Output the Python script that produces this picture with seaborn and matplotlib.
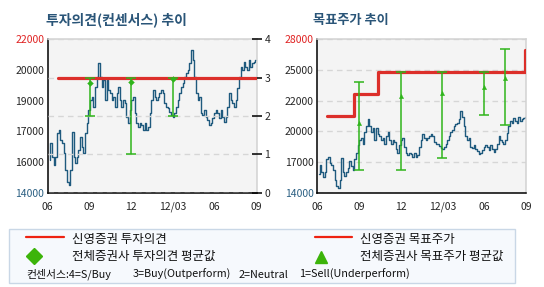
import numpy as np
import pandas as pd
import matplotlib.pyplot as plt
import seaborn as sns

# stock price (one value every few days)
price = [15700, 16570, 15880, 15440, 15880, 17100, 17270, 16750, 16570, 16050,
         15180, 14570, 14400, 15180, 17180, 15880, 15530, 15880, 16230, 16920,
         16400, 16050, 17100, 17620, 18310, 18830, 19010, 18490, 19530, 20050,
         20750, 20050, 19530, 19880, 18830, 19880, 19360, 19180, 18830, 19010,
         18490, 19180, 19530, 18830, 18490, 18830, 18660, 17970, 17620, 18310,
         18830, 19010, 18140, 17620, 17440, 17620, 17530, 17270, 17620, 17270,
         17440, 18140, 18830, 19360, 19010, 18830, 19010, 19180, 19360, 19180,
         18660, 18490, 18400, 18230, 18050, 17970, 18140, 18490, 18830, 19180,
         19530, 19700, 20050, 20230, 20400, 20750, 21440, 20920, 20050, 19180,
         18830, 19010, 18140, 18050, 18310, 17970, 17790, 17530, 17620, 17880,
         18140, 18310, 18140, 17880, 18310, 17970, 17700, 17970, 18490, 19180,
         18830, 18660, 18490, 18830, 19440, 20050, 20570, 20400, 20830, 20570,
         20400, 20920, 20570, 20750, 20830, 20920]
price_start, price_end = "2011-06-05", "2012-08-31"

# 신영증권 투자의견 (3 = Buy)
opinion_dates = ["2011-06-24", "2012-08-30"]
opinion = [3, 3]

# 전체증권사 투자의견 평균 / 최저 / 최고
cons_dates = ["2011-09-01", "2011-12-01", "2012-03-01"]
cons_mean = [2.85, 2.88, 2.97]
cons_min = [2, 1, 2]
cons_max = [3, 3, 3]

# 신영증권 목표주가
target_dates = ["2011-06-23", "2011-08-22", "2011-10-12", "2012-08-29", "2012-08-31"]
target = [21000, 23000, 25000, 27000, 27000]

# 전체증권사 목표주가 평균 / 최저 / 최고
tp_dates = ["2011-09-01", "2011-12-01", "2012-03-01", "2012-06-01", "2012-07-17"]
tp_mean = [20400, 22850, 23130, 23650, 24470]
tp_min = [16100, 16100, 17130, 21060, 20150]
tp_max = [24100, 25000, 25000, 25000, 27100]

xtick_dates = ["2011-06-01", "2011-09-01", "2011-12-01", "2012-03-01", "2012-06-01", "2012-09-01"]
xtick_labels = ["06", "09", "12", "12/03", "06", "09"]
left_ylabels = ["14000", "16000", "17000", "19000", "20000", "22000"]
right_ylabels = ["14000", "17000", "20000", "22000", "25000", "28000"]
opinion_ticks = [0, 1, 2, 3, 4]

titles = ["투자의견(컨센서스) 추이", "목표주가 추이"]
legend_labels = ["신영증권 투자의견", "전체증권사 투자의견 평균값",
                 "신영증권 목표주가", "전체증권사 목표주가 평균값"]
note_parts = ["컨센서스:4=S/Buy", "3=Buy(Outperform)", "2=Neutral", "1=Sell(Underperform)"]

PRICE_C = "#1f5a7e"
RED = "#dc2f2a"
GREEN = "#2fb51b"
TITLE_C = "#2a5578"
W, H = 544, 287


def style_axes(ax, lo, hi, labels):
    ax.set_facecolor("#f4f4f4")
    ax.set_xlim(pd.Timestamp(xtick_dates[0]), pd.Timestamp(xtick_dates[-1]))
    ax.set_ylim(lo, hi)
    ax.set_yticks(np.linspace(lo, hi, len(labels)))
    ax.set_yticklabels(labels)
    ax.get_yticklabels()[0].set_color("#2a5f82")
    ax.get_yticklabels()[-1].set_color("#e02222")
    ax.set_xticks(pd.to_datetime(xtick_dates))
    ax.set_xticklabels(xtick_labels)
    ax.tick_params(axis="y", length=0, pad=2.5, labelsize=7.5)
    ax.tick_params(axis="x", length=3.5, width=1, color="black", pad=3, labelsize=7.5)
    for s in ["left", "bottom"]:
        ax.spines[s].set_color("black")
        ax.spines[s].set_linewidth(1.1)
    for s in ["top", "right"]:
        ax.spines[s].set_color("#d2d2d2")
        ax.spines[s].set_linewidth(1.1)
    ax.set_xlabel("")
    ax.set_ylabel("")


def main():
    sns.set_theme(style="white")
    plt.rcParams["font.family"] = ["Noto Sans CJK KR", "DejaVu Sans"]

    dates = pd.date_range(price_start, price_end, periods=len(price))
    px_df = pd.DataFrame({"date": dates, "price": price})

    fig = plt.figure(figsize=(W / 100, H / 100), dpi=100)
    fig.patch.set_facecolor("white")

    # ---- left: 투자의견
    ax = fig.add_axes([47.7 / W, 1 - 192.7 / H, 209 / W, 153.4 / H])
    sns.lineplot(px_df, x="date", y="price", ax=ax, color=PRICE_C, lw=1.0,
                 drawstyle="steps-mid", zorder=2)
    style_axes(ax, 14000, 22000, left_ylabels)

    ax2 = ax.twinx()
    ax2.set_ylim(0, 4)
    ax2.set_yticks(opinion_ticks)
    ax2.grid(axis="y", color="#d6d6d6", ls=(0, (4, 3)), lw=1)
    ax2.grid(axis="x", visible=False)
    ax2.tick_params(axis="y", direction="inout", length=7, width=1.1, color="black",
                    pad=2, labelsize=7.5)
    for s in ax2.spines.values():
        s.set_visible(False)
    op_df = pd.DataFrame({"date": pd.to_datetime(opinion_dates), "v": opinion})
    sns.lineplot(op_df, x="date", y="v", ax=ax2, color=RED, lw=2.3, zorder=3)
    cd = pd.to_datetime(cons_dates)
    cm = np.array(cons_mean)
    ax2.errorbar(cd, cm, yerr=[cm - np.array(cons_min), np.array(cons_max) - cm],
                 fmt="none", ecolor=GREEN, elinewidth=1.1, capsize=3.5, capthick=1.1, zorder=4)
    sns.scatterplot(x=cd, y=cm, ax=ax2, marker="D", s=9, color=GREEN,
                    edgecolor=GREEN, zorder=5)
    ax2.set_xlabel("")
    ax2.set_ylabel("")

    # ---- right: 목표주가
    bx = fig.add_axes([317 / W, 1 - 192.7 / H, 209.3 / W, 153.4 / H])
    bx.grid(axis="y", color="#d6d6d6", ls=(0, (4, 3)), lw=1)
    sns.lineplot(px_df, x="date", y="price", ax=bx, color=PRICE_C, lw=1.0,
                 drawstyle="steps-mid", zorder=2)
    tg_df = pd.DataFrame({"date": pd.to_datetime(target_dates), "v": target})
    sns.lineplot(tg_df, x="date", y="v", ax=bx, color=RED, lw=2.3,
                 drawstyle="steps-post", zorder=3)
    td = pd.to_datetime(tp_dates)
    tm = np.array(tp_mean)
    bx.errorbar(td, tm, yerr=[tm - np.array(tp_min), np.array(tp_max) - tm],
                fmt="none", ecolor=GREEN, elinewidth=1.1, capsize=3.5, capthick=1.1, zorder=4)
    sns.scatterplot(x=td, y=tm, ax=bx, marker="^", s=10, color=GREEN,
                    edgecolor=GREEN, zorder=5)
    style_axes(bx, 14000, 28000, right_ylabels)
    bx.set_axisbelow(True)

    # titles
    fig.text(46 / W, 1 - 20 / H, titles[0], fontsize=10, fontweight="bold",
             color=TITLE_C, va="center", ha="left")
    fig.text(312.7 / W, 1 - 20 / H, titles[1], fontsize=9.5, fontweight="bold",
             color=TITLE_C, va="center", ha="left")

    # legend box, drawn in pixel space
    lax = fig.add_axes([0, 0, 1, 1])
    lax.set_xlim(0, W)
    lax.set_ylim(H, 0)
    lax.axis("off")
    lax.add_patch(plt.Rectangle((9, 229), 506, 54, facecolor="#f6f9fd",
                                edgecolor="#c9d7e6", lw=1))
    lax.plot([26, 64], [237, 237], color="#ee2211", lw=1.6)
    lax.plot([315, 352], [237, 237], color="#ee2211", lw=1.6)
    lax.plot([34.3], [256], marker="D", ms=8.5, color="#3cb40a", mec="#3cb40a")
    lax.plot([320.7], [257.3], marker="^", ms=8, color="#3cb40a", mec="#3cb40a")
    for (xx, yy), t in zip([(72, 239), (72, 256.5), (360, 239), (360, 256.5)], legend_labels):
        lax.text(xx, yy, t, fontsize=9, va="center", ha="left", color="#111111")
    for xx, t in zip([26.7, 132.3, 238.7, 299.3], note_parts):
        lax.text(xx, 274.5, t, fontsize=7.8, va="center", ha="left", color="#111111")

    plt.savefig("out.png", dpi=100)
    plt.close()


if __name__ == "__main__":
    main()
